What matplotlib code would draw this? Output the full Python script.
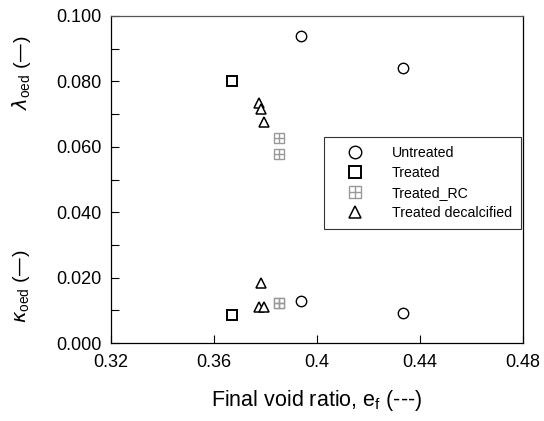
import numpy as np
import matplotlib.pyplot as plt
from matplotlib.legend_handler import HandlerTuple

plt.rcParams['font.family'] = ['Liberation Sans', 'DejaVu Sans']

# Final void ratio and compression / swelling indices for each sample group
e_untreated = [0.394, 0.4333]
lam_untreated = [0.0939, 0.0842]
kap_untreated = [0.0129, 0.0091]

e_treated = [0.3671]
lam_treated = [0.0802]
kap_treated = [0.0085]

e_rc = [0.3852, 0.3852]
lam_rc = [0.0626, 0.0577]
kap_rc = [0.0123, 0.0123]

e_decalc = [0.3776, 0.3783, 0.3794]
lam_decalc = [0.0733, 0.0715, 0.0676]
kap_decalc = [0.0109, 0.0183, 0.0109]

fig = plt.figure(figsize=(5.44, 4.21), dpi=100)
ax = fig.add_axes([0.204, 0.185, 0.757, 0.777])

ms = 7.5
h1, = ax.plot(e_untreated + e_untreated, lam_untreated + kap_untreated, 'o',
              ms=ms, mfc='white', mec='black', mew=1.0, ls='none')
h2, = ax.plot(e_treated + e_treated, lam_treated + kap_treated, 's',
              ms=ms - 0.5, mfc='white', mec='black', mew=1.4, ls='none')
h3a, = ax.plot(e_rc + e_rc, lam_rc + kap_rc, 's',
               ms=ms - 0.5, mfc='white', mec='#999999', mew=1.0, ls='none')
h3b, = ax.plot(e_rc + e_rc, lam_rc + kap_rc, '+',
               ms=ms - 0.5, mec='#999999', mew=1.0, ls='none')
h4, = ax.plot(e_decalc + e_decalc, lam_decalc + kap_decalc, '^',
              ms=ms, mfc='white', mec='black', mew=1.1, ls='none')

ax.set_xlim(0.32, 0.48)
ax.set_ylim(0.0, 0.1)
ax.set_xticks([0.32, 0.36, 0.40, 0.44, 0.48])
ax.set_xticklabels(['0.32', '0.36', '0.4', '0.44', '0.48'])
ax.set_yticks(np.arange(0, 0.101, 0.02))
ax.set_yticklabels(['0.000', '0.020', '0.040', '0.060', '0.080', '0.100'])
ax.set_yticks(np.arange(0.01, 0.1, 0.02), minor=True)
ax.tick_params(axis='both', which='both', direction='in', labelsize=13,
               top=False, right=False, width=0.8, length=5.5)
ax.tick_params(axis='x', which='major', pad=8)
ax.tick_params(axis='y', which='major', pad=7)
for s in ax.spines.values():
    s.set_linewidth(0.9)
ax.spines['top'].set_color('#555555')

ax.set_xlabel('Final void ratio, e$_\\mathregular{f}$ (---)', fontsize=15.5, labelpad=12)

fig.text(0.04, 1 - 73 / 421, '$\\lambda_\\mathregular{oed}$ (\u2014)', rotation=90,
         ha='center', va='center', fontsize=14)
fig.text(0.04, 1 - 286 / 421, '$\\kappa_\\mathregular{oed}$ (\u2014)', rotation=90,
         ha='center', va='center', fontsize=14)

leg = ax.legend([h1, h2, (h3a, h3b), h4],
                ['Untreated', 'Treated', 'Treated_RC', 'Treated decalcified'],
                handler_map={tuple: HandlerTuple(ndivide=1, pad=0)},
                loc='upper left', bbox_to_anchor=(0.517, 0.630), borderaxespad=0,
                fontsize=10.2, markerscale=1.2, frameon=True, fancybox=False,
                shadow=False, edgecolor='black', borderpad=0.6,
                handlelength=3.2, handletextpad=1.0, labelspacing=0.44)
leg.get_frame().set_linewidth(0.8)

fig.savefig('out.png', dpi=100)
